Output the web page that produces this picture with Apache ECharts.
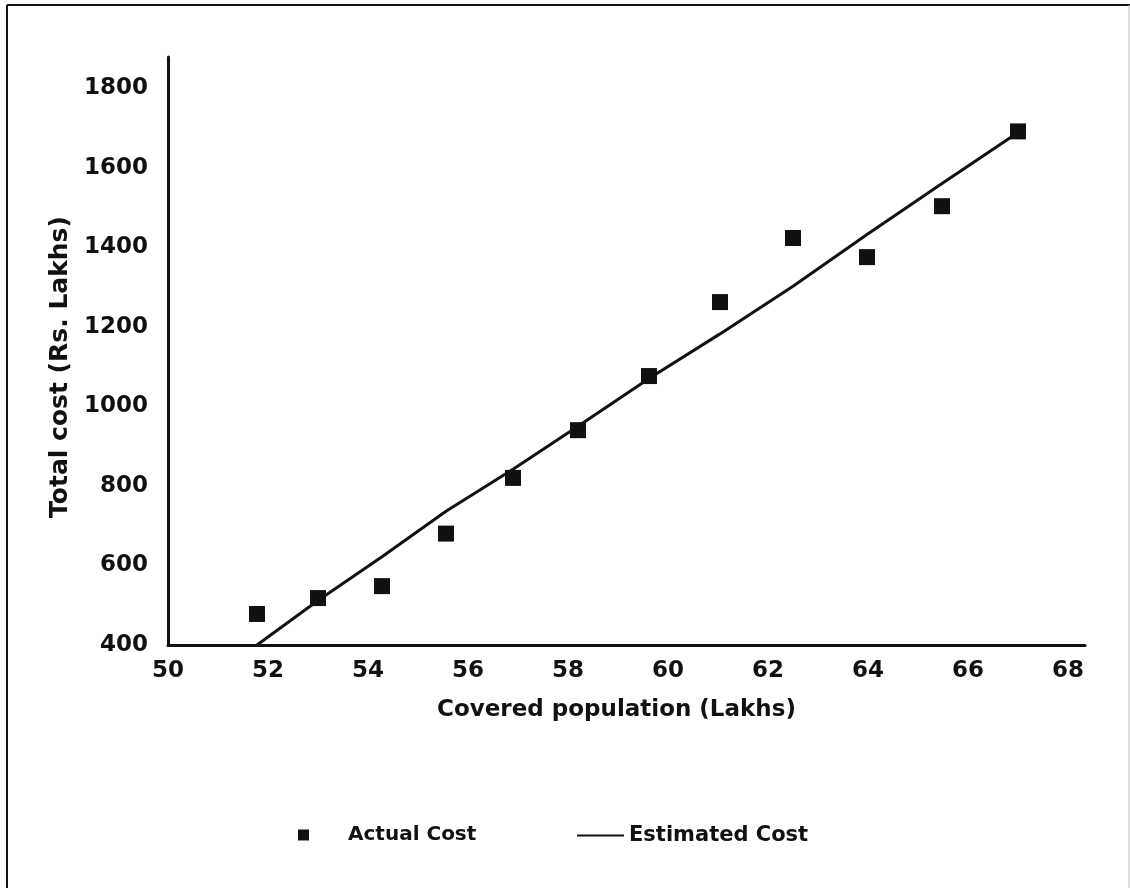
<!DOCTYPE html>
<html>
<head>
<meta charset="utf-8">
<script src="https://cdn.jsdelivr.net/npm/echarts@6/dist/echarts.min.js"></script>
<style>
html,body{margin:0;padding:0;background:#fff;}
#chart{width:1130px;height:888px;}
</style>
</head>
<body>
<div id="chart"></div>
<script>
// Covered population (Lakhs)
var population = [51.78, 53.0, 54.28, 55.56, 56.9, 58.2, 59.62, 61.04, 62.5, 63.98, 65.48, 67.0];
// Actual total cost (Rs. Lakhs)
var actualCost = [478, 518, 548, 680, 820, 940, 1076, 1262, 1423, 1375, 1503, 1691];
// Estimated total cost (Rs. Lakhs)
var estimatedCost = [400, 512, 622, 736, 842, 950, 1070, 1182, 1302, 1432, 1560, 1688];
var xTicks = [50, 52, 54, 56, 58, 60, 62, 64, 66, 68];
var yTicks = [400, 600, 800, 1000, 1200, 1400, 1600, 1800];

var FONT = 'DejaVu Sans';
var INK = '#111';

var chart = echarts.init(document.getElementById('chart'));
var option = {
  backgroundColor: '#fff',
  animation: false,
  textStyle: {fontFamily: FONT},
  grid: {left: 168, top: 57, width: 917, height: 588, containLabel: false},
  xAxis: {
    type: 'value',
    min: xTicks[0], max: 68.34, interval: 2,
    name: 'Covered population (Lakhs)',
    nameLocation: 'middle', nameGap: 54,
    nameTextStyle: {fontFamily: FONT, fontWeight: 'bold', fontSize: 23, color: INK, padding: [0, 20, 0, 0]},
    axisLine: {show: true, lineStyle: {color: INK, width: 3}},
    axisTick: {show: false},
    splitLine: {show: false},
    axisLabel: {
      showMaxLabel: false, margin: 15,
      fontFamily: FONT, fontWeight: 'bold', fontSize: 23, color: INK,
      formatter: function (v) { return xTicks.indexOf(v) >= 0 ? String(v) : ''; }
    }
  },
  yAxis: {
    type: 'value',
    min: yTicks[0], max: 1878, interval: 200,
    name: 'Total cost (Rs. Lakhs)',
    nameLocation: 'middle', nameGap: 93,
    nameTextStyle: {fontFamily: FONT, fontWeight: 'bold', fontSize: 25, color: INK, padding: [0, 32, 0, 0]},
    axisLine: {show: true, lineStyle: {color: INK, width: 3}},
    axisTick: {show: false},
    splitLine: {show: false},
    axisLabel: {
      showMaxLabel: false, margin: 20,
      fontFamily: FONT, fontWeight: 'bold', fontSize: 23, color: INK,
      formatter: function (v) { return yTicks.indexOf(v) >= 0 ? String(v) : ''; }
    }
  },
  legend: [
    {
      data: [{name: 'Actual Cost', icon: 'rect'}],
      left: 293, top: 820,
      itemWidth: 11, itemHeight: 11,
      textStyle: {fontFamily: FONT, fontWeight: 'bold', fontSize: 20, color: INK, padding: [0, 0, 0, 34]}
    },
    {
      data: [{name: 'Estimated Cost', icon: 'rect'}],
      left: 572, top: 820,
      itemWidth: 47, itemHeight: 2,
      textStyle: {fontFamily: FONT, fontWeight: 'bold', fontSize: 21, color: INK}
    }
  ],
  graphic: [
    {type: 'line', shape: {x1: 7, y1: 5, x2: 1130, y2: 5}, style: {stroke: '#111', lineWidth: 2}},
    {type: 'line', shape: {x1: 7, y1: 5, x2: 7, y2: 888}, style: {stroke: '#111', lineWidth: 2}},
    {type: 'line', shape: {x1: 1129, y1: 5, x2: 1129, y2: 888}, style: {stroke: '#bbb', lineWidth: 1}}
  ],
  series: [
    {
      name: 'Estimated Cost',
      type: 'line',
      data: population.map(function (x, i) { return [x, estimatedCost[i]]; }),
      showSymbol: false,
      symbol: 'none',
      lineStyle: {color: INK, width: 3},
      itemStyle: {color: INK},
      z: 2
    },
    {
      name: 'Actual Cost',
      type: 'scatter',
      data: population.map(function (x, i) { return [x, actualCost[i]]; }),
      symbol: 'rect',
      symbolSize: 16,
      itemStyle: {color: INK, opacity: 1},
      z: 3
    }
  ]
};
chart.setOption(option);
</script>
</body>
</html>
